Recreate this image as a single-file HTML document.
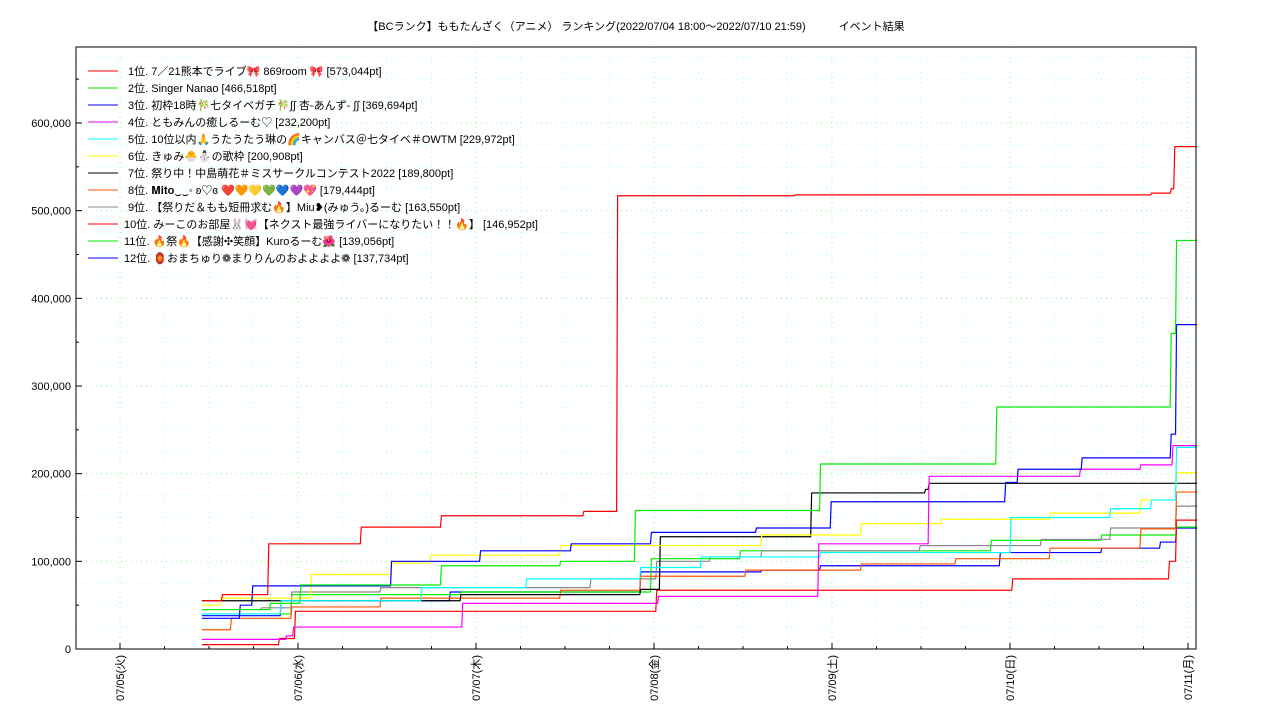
<!DOCTYPE html>
<html><head><meta charset="utf-8"><style>
body{margin:0;background:#fff;width:1280px;height:720px;overflow:hidden}
svg{font-family:"Liberation Sans","Noto Sans CJK JP",sans-serif}
</style></head><body>
<svg id="chart" width="1280" height="720">
<text x="636" y="30" font-size="11" text-anchor="middle">【BCランク】ももたんざく（アニメ） ランキング(2022/07/04 18:00～2022/07/10 21:59)　　　イベント結果</text>
<g id="grid"></g><g id="series"></g><g id="axes"></g><g id="legend"></g>
</svg>
<script>
const dayLabels=["07/05(火)","07/06(水)","07/07(木)","07/08(金)","07/09(土)","07/10(日)","07/11(月)"];
const yTicks=[0,100000,200000,300000,400000,500000,600000];
const names=["1位. 7／21熊本でライブ🎀 869room 🎀 [573,044pt]","2位. Singer Nanao [466,518pt]","3位. 初枠18時🎋七タイベガチ🎋∫∫ 杏-あんず- ∫∫ [369,694pt]","4位. ともみんの癒しるーむ♡ [232,200pt]","5位. 10位以内🙏うたうたう琳の🌈キャンバス＠七タイベ＃OWTM [229,972pt]","6位. きゅみ🐣⛄の歌枠 [200,908pt]","7位. 祭り中！中島萌花＃ミスサークルコンテスト2022 [189,800pt]","8位. 𝐌𝐢𝐭𝐨‿‿◦ ʚ♡ɞ ❤️🧡💛💚💙💜💖 [179,444pt]","9位. 【祭りだ＆もも短冊求む🔥】Miu❥(みゅう。)るーむ [163,550pt]","10位. みーこのお部屋🐰💓【ネクスト最強ライバーになりたい！！🔥】 [146,952pt]","11位. 🔥祭🔥【感謝✣笑顔】Kuroるーむ🌺 [139,056pt]","12位. 🏮おまちゅり❁まりりんのおよよよよ❁ [137,734pt]"];
const colors=["#ff0000","#00ee00","#0000ff","#ff00ff","#00ffff","#ffff00","#000000","#ff5500","#888888","#ff0000","#00ee00","#0000ff"];
// times in days since 07/05 00:00, values in points
const t1=[0.46,0.57,0.83,1.35,1.80,2.60,2.79,3.79,5.79,5.90,5.92,6.045];
const v1=[55000,62000,120000,139000,152000,157000,517000,518000,520000,525000,573000,573000];
const t2=[0.46,0.84,1.01,1.80,2.47,2.89,3.93,4.92,5.90,5.93,6.045];
const v2=[45000,52000,73000,95000,100000,158000,211000,276000,360000,466000,466518];
const t3=[0.46,0.67,0.74,1.52,2.02,2.53,2.98,3.57,3.99,4.97,5.04,5.40,5.90,5.93,6.045];
const v3=[35000,50000,72000,100000,112000,120000,133000,138000,168000,190000,205000,218000,245000,370000,369694];
const t4=[0.46,0.93,0.97,1.92,3.02,3.92,4.54,5.39,5.73,5.91,6.045];
const v4=[11000,15000,25000,52000,60000,120000,197000,205000,210000,232000,232200];
const t5=[0.46,0.90,1.69,2.28,2.92,3.26,3.93,5.00,5.56,5.79,5.93,6.045];
const v5=[40000,55000,70000,80000,93000,105000,110000,150000,160000,170000,230000,229972];
const t6=[0.46,0.56,1.07,1.52,1.74,2.47,3.60,4.16,4.61,5.22,5.73,5.93,6.045];
const v6=[50000,58000,85000,98000,107000,118000,130000,143000,148000,155000,170000,201000,200908];
const t7=[0.46,1.91,2.92,3.03,3.88,4.52,4.54,6.045];
const v7=[55000,62000,68000,128000,178000,182000,189000,189800];
const t8=[0.46,0.62,0.96,1.46,2.47,2.92,3.51,4.16,4.69,5.22,5.73,5.93,6.045];
const v8=[22000,35000,48000,58000,67000,83000,90000,97000,103000,115000,137000,179000,179444];
const t9=[0.46,0.79,0.96,1.46,2.64,3.01,3.31,3.60,4.49,5.17,5.56,5.93,6.045];
const v9=[45000,47000,65000,70000,80000,100000,105000,112000,118000,125000,138000,163000,163550];
const t10=[0.46,0.89,0.98,1.85,3.01,5.01,5.89,5.93,6.045];
const v10=[5000,12000,43000,43000,67000,80000,100000,147000,146952];
const t11=[0.46,0.96,1.91,2.98,3.48,4.89,5.51,5.93,6.045];
const v11=[40000,62000,65000,103000,112000,124000,130000,139000,139056];
const t12=[0.46,0.90,1.85,2.92,3.60,3.93,4.94,5.51,5.84,5.93,6.045];
const v12=[38000,55000,65000,88000,90000,95000,110000,115000,122000,138000,137734];
const T=[t1,t2,t3,t4,t5,t6,t7,t8,t9,t10,t11,t12];
const V=[v1,v2,v3,v4,v5,v6,v7,v8,v9,v10,v11,v12];

const L=76,R=1196,TOP=47,B=649;
const xS=d=>120+d*178;
const yS=v=>B-v/100000*87.67;
const NS="http://www.w3.org/2000/svg";
function mk(tag,parent,attrs){const e=document.createElementNS(NS,tag);for(const k in attrs)e.setAttribute(k,attrs[k]);parent.appendChild(e);return e;}
const grid=document.getElementById('grid'),axes=document.getElementById('axes'),ser=document.getElementById('series'),leg=document.getElementById('legend');
// grid
for(let i=-1;i<=25;i++){const d=i*0.25;const x=xS(d);if(x<=L||x>=R)continue;
 const major=(i%4===0);
 const g=mk('line',grid,{x1:x,x2:x,y1:TOP,y2:B,stroke:major?'#8f8':'#aff',"stroke-dasharray":'1,4'});
 
 }
for(let i=1;i<28;i++){const v=i*25000;const y=yS(v);if(y<=TOP)continue;
 const major=(i%4===0);
 const g=mk('line',grid,{x1:L,x2:R,y1:y,y2:y,stroke:major?'#8f8':'#aff',"stroke-dasharray":'1,4'});
 
 }
// frame
const fr=mk('rect',axes,{x:L,y:TOP,width:R-L,height:B-TOP,fill:'none',stroke:'#000','stroke-width':1});


// y ticks
yTicks.forEach(v=>{const y=yS(v);
 mk('line',axes,{x1:L,x2:L+6,y1:y,y2:y,stroke:'#000'});
 const t=mk('text',axes,{x:L-5,y:y+4,'font-size':11,'text-anchor':'end'});t.textContent=v.toLocaleString('en-US');
 
 });
for(let v=50000;v<700000;v+=100000){const y=yS(v);if(y>TOP)mk('line',axes,{x1:L,x2:L+3,y1:y,y2:y,stroke:'#000'});}
// x ticks
dayLabels.forEach((s,i)=>{const x=xS(i);
 mk('line',axes,{x1:x,x2:x,y1:B,y2:B-6,stroke:'#000'});
 const t=mk('text',axes,{x:0,y:0,'font-size':11,'text-anchor':'end',transform:`translate(${x+4},655) rotate(-90)`});t.textContent=s;
 
 });
for(let d=-0.25;d<=6.1;d+=0.25){const x=xS(d);if(x>L&&x<R)mk('line',axes,{x1:x,x2:x,y1:B,y2:B-3,stroke:'#000'});}
// series
for(let s=11;s>=0;s--){const t=T[s],v=V[s];let p=`M${xS(t[0])},${yS(v[0])}`;
 for(let i=1;i<t.length;i++){p+=` L${xS(t[i])},${yS(v[i-1])} L${xS(t[i])+1},${yS(v[i])}`;}
 const e=mk('path',ser,{d:p,fill:'none',stroke:colors[s],'stroke-width':1.2});
 
 }
// legend
names.forEach((n,i)=>{const y=71+i*17;
 const g=mk('g',leg,{});
 
 
 mk('line',g,{x1:88,x2:118,y1:y,y2:y,stroke:colors[i]});
 const t=mk('text',g,{x:i>=9?124:128,y:y+4,'font-size':11});t.textContent=n;});
</script>
</body></html>
